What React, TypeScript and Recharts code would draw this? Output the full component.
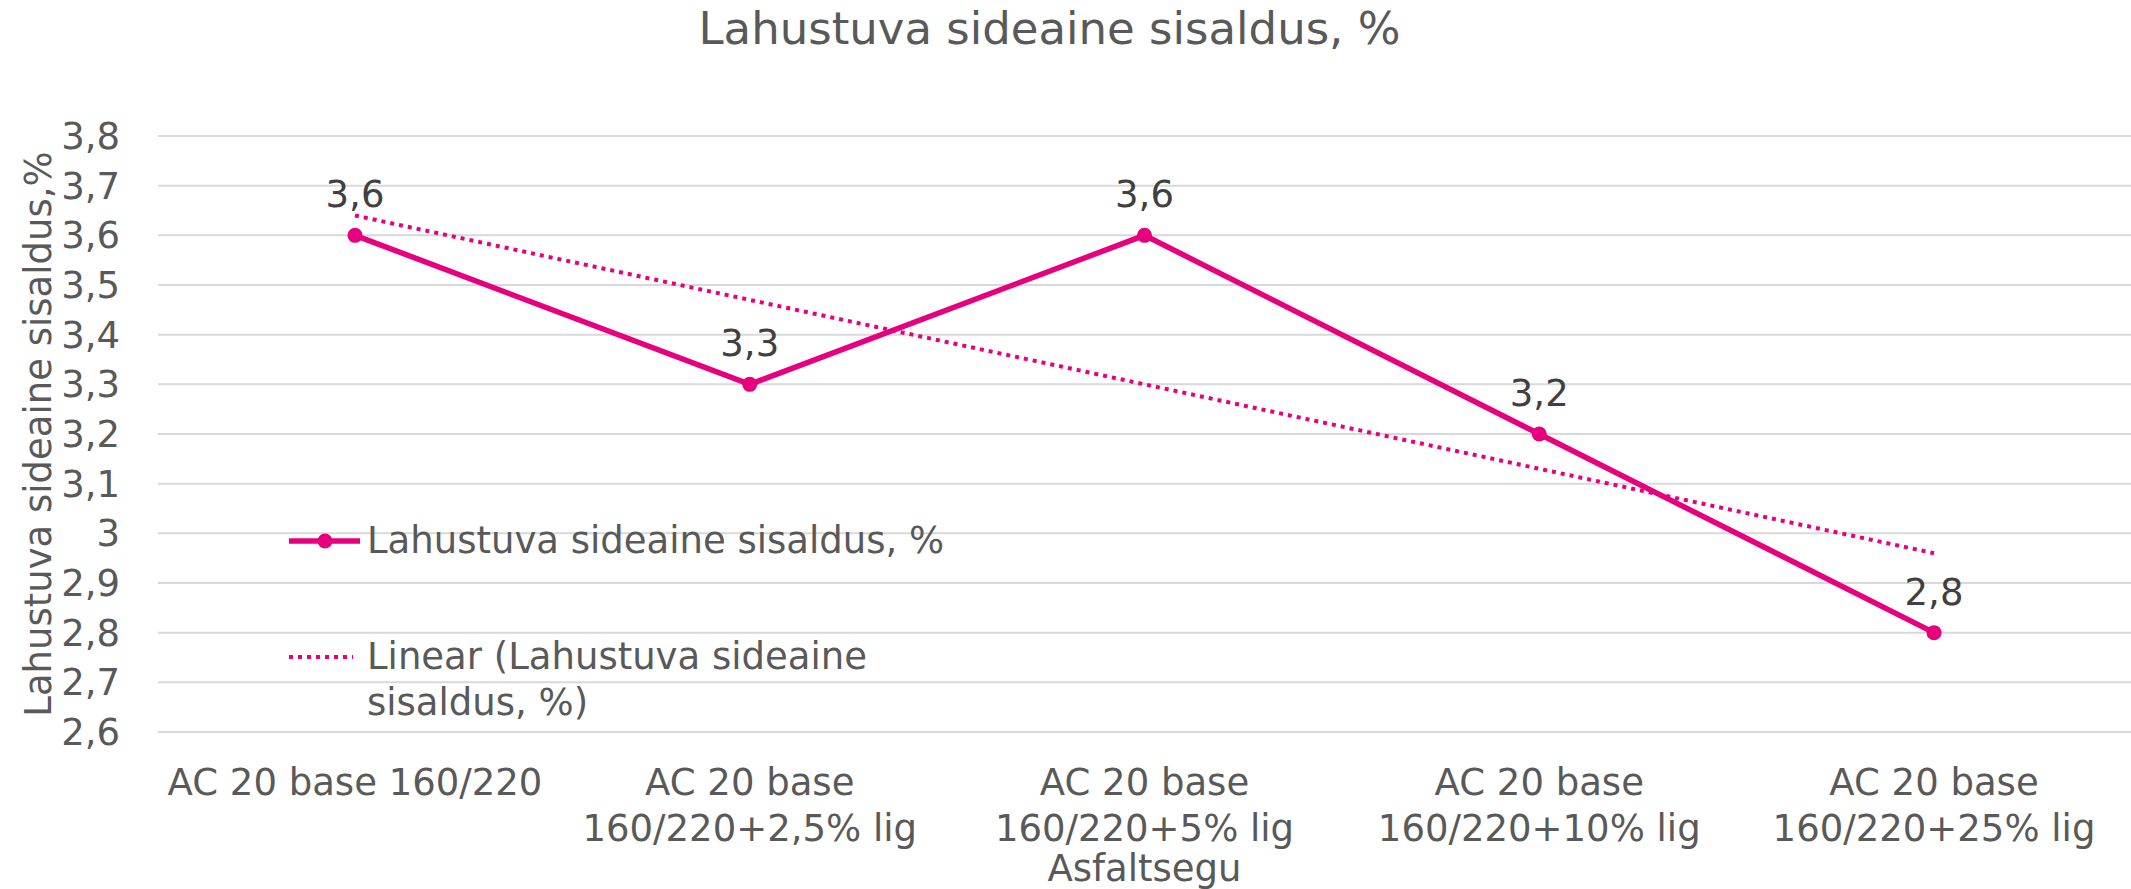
import { CartesianGrid, LabelList, Legend, Line, LineChart, XAxis, YAxis } from 'recharts'

const categories = [
  'AC 20 base 160/220',
  'AC 20 base 160/220+2,5% lig',
  'AC 20 base 160/220+5% lig',
  'AC 20 base 160/220+10% lig',
  'AC 20 base 160/220+25% lig',
]
const tickLines = [
  ['AC 20 base 160/220'],
  ['AC 20 base', '160/220+2,5% lig'],
  ['AC 20 base', '160/220+5% lig'],
  ['AC 20 base', '160/220+10% lig'],
  ['AC 20 base', '160/220+25% lig'],
]
const values = [3.6, 3.3, 3.6, 3.2, 2.8]
// trendline as drawn in the picture
const trendValues = [3.64, 3.47, 3.3, 3.13, 2.96]
const yTicks = [2.6, 2.7, 2.8, 2.9, 3, 3.1, 3.2, 3.3, 3.4, 3.5, 3.6, 3.7, 3.8]

const seriesName = 'Lahustuva sideaine sisaldus, %'
const trendName = 'Linear (Lahustuva sideaine sisaldus, %)'

const PINK = '#E6007E'
const GREY = '#595959'
const FONT = '"DejaVu Sans", Verdana, sans-serif'

const data = categories.map((name, i) => ({ name, value: values[i], trend: trendValues[i] }))

const comma = (v: number | string) => String(v).replace('.', ',')

function CategoryTick(props: any) {
  const { x, y, index } = props
  const lines = tickLines[index] ?? [String(props.payload?.value)]
  return (
    <text x={x} y={y} textAnchor="middle" fill={GREY} fontSize={37} fontFamily={FONT}>
      {lines.map((l, i) => (
        <tspan key={i} x={x} dy={i === 0 ? 63 : 46}>
          {l}
        </tspan>
      ))}
    </text>
  )
}

function LegendBox(props: any) {
  const items = props.payload ?? []
  return (
    <div style={{ fontFamily: FONT, fontSize: 37, color: GREY, lineHeight: '46px', textAlign: 'left' }}>
      {items.map((it: any, i: number) => (
        <div key={i} style={{ display: 'flex', alignItems: 'flex-start', marginTop: i === 0 ? 0 : 70 }}>
          <svg width={78} height={46} style={{ flex: 'none' }}>
            {it.dataKey === 'trend' ? (
              <line x1={0} y1={23} x2={64} y2={23} stroke={PINK} strokeWidth={4} strokeDasharray="4 5" />
            ) : (
              <g>
                <line x1={0} y1={23} x2={71} y2={23} stroke={PINK} strokeWidth={5.5} />
                <circle cx={36} cy={23} r={7.5} fill={PINK} />
              </g>
            )}
          </svg>
          <span style={{ width: 620 }}>{it.value}</span>
        </div>
      ))}
    </div>
  )
}

export default function App() {
  return (
    <div style={{ position: 'absolute', left: 0, top: 0, width: 2131, height: 889, background: '#fff' }}>
      <div
        style={{
          position: 'absolute',
          top: 6,
          left: 0,
          width: 2131,
          paddingRight: 32,
          boxSizing: 'border-box',
          textAlign: 'center',
          fontFamily: FONT,
          fontSize: 45,
          lineHeight: '45px',
          color: GREY,
        }}
      >
        Lahustuva sideaine sisaldus, %
      </div>
      <LineChart width={2131} height={889} data={data} margin={{ top: 136, right: 0, bottom: 0, left: 0 }}>
        <CartesianGrid vertical={false} stroke="#d9d9d9" strokeWidth={2} />
        <XAxis
          dataKey="name"
          height={157}
          interval={0}
          padding={{ left: 197, right: 197 }}
          tickLine={false}
          axisLine={false}
          tickSize={0}
          tickMargin={0}
          tick={<CategoryTick />}
          label={{
            value: 'Asfaltsegu',
            position: 'insideBottom',
            offset: 8,
            fill: GREY,
            fontSize: 37,
            fontFamily: FONT,
          }}
        />
        <YAxis
          width={158}
          domain={[2.6, 3.8]}
          ticks={yTicks}
          interval={0}
          tickLine={false}
          axisLine={false}
          tickSize={0}
          tickMargin={38}
          tickFormatter={comma}
          tick={{ fill: GREY, fontSize: 37, fontFamily: FONT }}
          label={{
            value: 'Lahustuva sideaine sisaldus,%',
            angle: -90,
            position: 'center',
            dx: -41,
            fill: GREY,
            fontSize: 37,
            fontFamily: FONT,
          }}
        />
        <Legend
          content={<LegendBox />}
          layout="horizontal"
          verticalAlign="middle"
          align="center"
          wrapperStyle={{ position: 'absolute', left: 289, top: 518, width: 720, bottom: 'auto' }}
        />
        <Line
          dataKey="value"
          name={seriesName}
          stroke={PINK}
          strokeWidth={5.5}
          dot={{ r: 7.5, fill: PINK, stroke: PINK, strokeWidth: 0 }}
          activeDot={false}
          isAnimationActive={false}
        >
          <LabelList
            dataKey="value"
            position="top"
            offset={28}
            formatter={comma}
            fill="#404040"
            fontSize={37}
            fontFamily={FONT}
          />
        </Line>
        <Line
          dataKey="trend"
          name={trendName}
          stroke={PINK}
          strokeWidth={4}
          strokeDasharray="4 5"
          dot={false}
          activeDot={false}
          isAnimationActive={false}
        />
      </LineChart>
    </div>
  )
}
